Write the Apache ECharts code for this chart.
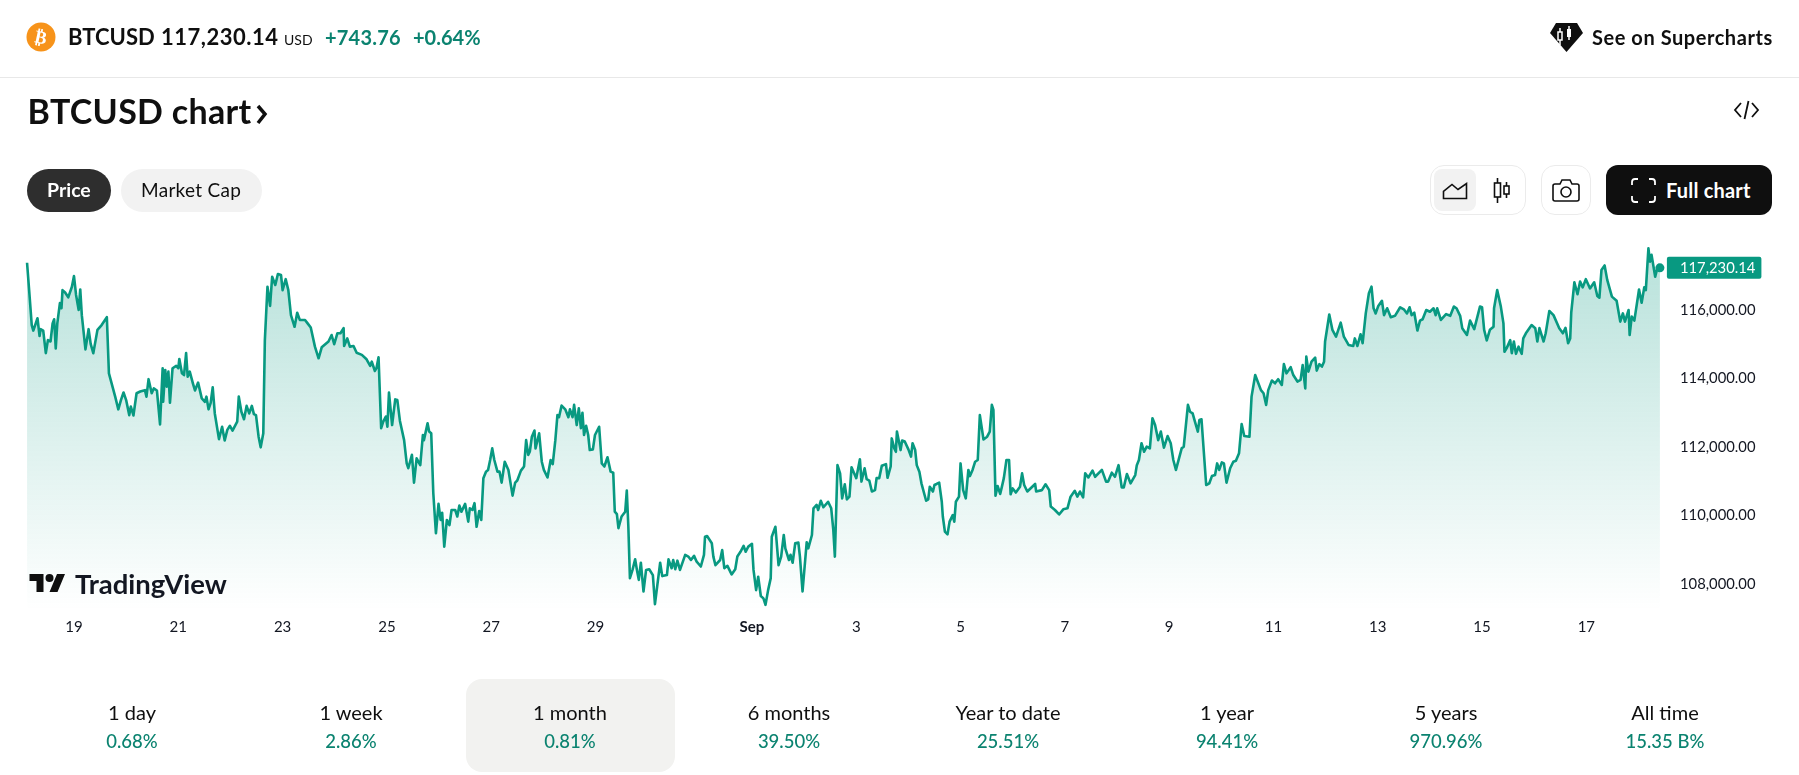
<!DOCTYPE html>
<html>
<head>
<meta charset="utf-8">
<title>BTCUSD chart</title>
<script src="https://cdn.jsdelivr.net/npm/echarts@6/dist/echarts.min.js"></script>
<style>
  html, body { margin: 0; background: #fff; }
  body { width: 1799px; height: 775px; overflow: hidden; position: relative; font-family: Lato, "Noto Sans", sans-serif; color: #0f0f0f; }
  #chart { position: absolute; left: 0; top: 0; width: 1799px; height: 775px; }
  .t { position: absolute; white-space: nowrap; line-height: 1; }
  .box { position: absolute; box-sizing: border-box; }
  .up { color: #0b8370; }
  svg { position: absolute; overflow: visible; }
  .stat { position: absolute; top: 680px; width: 219px; height: 93px; text-align: center; font-size: 20px; }
  .stat div { position: absolute; left: 0; width: 100%; line-height: 22px; }
</style>
</head>
<body>
<div id="chart"></div>

<!-- header row -->
<svg style="left:26px;top:22px" width="30" height="30" viewBox="0 0 30 30">
  <circle cx="15" cy="15" r="14.5" fill="#f7931a"/>
  <text x="15" y="21.500" text-anchor="middle" font-family="DejaVu Sans" font-weight="bold" font-size="18" fill="#fff" transform="rotate(12 15 15)">₿</text>
</svg>
<div class="t" style="left:68px;top:26px;font-size:22px;font-weight:700">BTCUSD</div>
<div class="t" style="left:161px;top:26px;font-size:22px;font-weight:700;letter-spacing:.5px">117,230.14</div>
<div class="t" style="left:284px;top:33px;font-size:14px">USD</div>
<div class="t up" style="left:325px;top:27px;font-size:20px;font-weight:700;letter-spacing:.2px">+743.76</div>
<div class="t up" style="left:413px;top:27px;font-size:20px;font-weight:700">+0.64%</div>
<svg style="left:1550px;top:23px" width="33" height="30" viewBox="0 0 33 30">
  <path d="M6 0H27L33 10 16.500 29 0 10Z" fill="#0f0f0f"/>
  <path d="M10 5V22M19 3V17" stroke="#fff" stroke-width="1.500"/>
  <rect x="8" y="9" width="4" height="8" fill="#0f0f0f" stroke="#fff" stroke-width="1.500"/>
  <rect x="17" y="6" width="4" height="8" fill="#fff"/>
</svg>
<div class="t" style="left:1592px;top:27px;font-size:20px;font-weight:700;letter-spacing:.55px">See on Supercharts</div>
<div class="box" style="left:0;top:77px;width:1799px;height:1px;background:#e8e8e8"></div>

<!-- title row -->
<div class="t" style="left:27.500px;top:94px;font-size:34px;font-weight:700;letter-spacing:.3px">BTCUSD chart</div>
<svg style="left:255px;top:102px" width="14" height="24" viewBox="0 0 14 24"><path d="M3 4L10 12 3 21" fill="none" stroke="#0f0f0f" stroke-width="3.500"/></svg>
<svg style="left:1734px;top:100px" width="25" height="20" viewBox="0 0 25 20"><path d="M7 3L1 10 7 17M18 3L24 10 18 17M14.500 1L10.500 19" fill="none" stroke="#0f0f0f" stroke-width="1.800"/></svg>

<!-- toggles -->
<div class="box" style="left:27px;top:169px;width:84px;height:43px;border-radius:22px;background:#2e2e2e"></div>
<div class="t" style="left:47px;top:180px;font-size:19.500px;font-weight:700;color:#fff">Price</div>
<div class="box" style="left:120.500px;top:169px;width:141.500px;height:43px;border-radius:22px;background:#f2f2f2"></div>
<div class="t" style="left:141px;top:180px;font-size:19px;letter-spacing:.3px">Market Cap</div>

<div class="box" style="left:1430px;top:165px;width:96px;height:50px;border:1px solid #ebebeb;border-radius:14px"></div>
<div class="box" style="left:1434px;top:169px;width:42px;height:42px;border-radius:8px;background:#f2f2f2"></div>
<svg style="left:1442px;top:181px" width="26" height="19" viewBox="0 0 26 19"><path d="M1.500 17.500H24.500V2.500L16 8.500 10 3.500 1.500 10.500Z" fill="none" stroke="#0f0f0f" stroke-width="1.600"/></svg>
<svg style="left:1493px;top:178px" width="18" height="25" viewBox="0 0 18 25"><path d="M4.500 0V25M13.500 4V20" stroke="#0f0f0f" stroke-width="1.600"/><rect x="1.500" y="5" width="6" height="14" fill="#fff" stroke="#0f0f0f" stroke-width="1.600"/><rect x="11" y="8" width="5" height="8" fill="#fff" stroke="#0f0f0f" stroke-width="1.600"/></svg>
<div class="box" style="left:1541px;top:165px;width:50px;height:50px;border:1px solid #ebebeb;border-radius:14px"></div>
<svg style="left:1552px;top:179px" width="28" height="23" viewBox="0 0 28 23"><path d="M3 5H8L10 1H18L20 5H25Q27 5 27 7V20Q27 22 25 22H3Q1 22 1 20V7Q1 5 3 5Z" fill="none" stroke="#0f0f0f" stroke-width="1.600"/><circle cx="14" cy="13" r="5" fill="none" stroke="#0f0f0f" stroke-width="1.600"/></svg>
<div class="box" style="left:1606px;top:165px;width:166px;height:50px;border-radius:12px;background:#0f0f0f"></div>
<svg style="left:1631px;top:178px" width="25" height="25" viewBox="0 0 25 25"><path d="M1 7V4Q1 1 4 1H7M18 1H21Q24 1 24 4V7M24 18V21Q24 24 21 24H18M7 24H4Q1 24 1 21V18" fill="none" stroke="#fff" stroke-width="1.800"/></svg>
<div class="t" style="left:1666px;top:180px;font-size:20px;font-weight:700;color:#fff;letter-spacing:.2px">Full chart</div>

<!-- watermark -->
<svg style="left:29px;top:571px" width="37" height="22" viewBox="0 0 36 22"><path d="M14 21H7V10H0V3h14v18zM28 21h-8l7.500-18h8L28 21z" fill="#0f0f0f"/><circle cx="20" cy="7" r="4" fill="#0f0f0f"/></svg>
<div class="t" style="left:75px;top:570px;font-size:27.500px;font-weight:700;color:#131722">TradingView</div>

<div class="box" style="left:466px;top:679px;width:209px;height:93px;border-radius:16px;background:#f2f2f0"></div>
<div id="stats"></div>

<script>
// price trace: [day, price], day counts from Aug 0 so Sep 1 is 32
const legAug18 = [[18.10,117380],[18.14,116580],[18.19,115560],[18.22,115400],[18.25,115420],[18.30,115760],[18.34,115240],[18.36,115440],[18.41,115400],[18.46,114740],[18.50,115120],[18.55,115080],[18.59,115610],[18.62,115730],[18.65,114880],[18.68,115610],[18.73,116200],[18.76,116050],[18.78,116580],[18.83,116510],[18.89,116370],[18.96,116680],[19.00,116990],[19.04,116440],[19.09,116000],[19.12,116600],[19.15,115850],[19.18,115800],[19.22,114850],[19.28,115440],[19.32,115010],[19.37,114740],[19.45,115420],[19.53,115560],[19.63,115790],[19.67,114150],[19.70,114100],[19.79,113470],[19.85,113100],[19.90,113370],[19.95,113590],[20.00,113370],[20.06,112930],[20.09,113180],[20.14,112920],[20.20,113570],[20.27,113620],[20.36,113660],[20.39,113470],[20.43,113980],[20.49,113570],[20.53,113710],[20.59,113650],[20.65,112660],[20.70,114300],[20.71,113320],[20.75,114250],[20.78,113760],[20.81,114200],[20.84,113290],[20.89,114300],[20.96,114370],[21.00,114300],[21.02,114570],[21.07,114150],[21.11,114100],[21.15,114740],[21.18,114050],[21.22,114200],[21.28,113860],[21.32,113650],[21.38,113880],[21.45,113420],[21.51,113320],[21.54,113470],[21.58,113100],[21.62,113280],[21.66,113740],[21.70,112980],[21.78,112230],[21.84,112590],[21.89,112190],[21.94,112500],[21.99,112620],[22.04,112480],[22.13,112740],[22.16,113470],[22.21,113030],[22.26,112810],[22.31,113200],[22.36,112980],[22.41,113200],[22.45,112960],[22.49,112930],[22.54,112300],[22.58,111990],[22.63,112400],[22.66,115120],[22.71,116680],[22.76,116120],[22.80,116970],[22.86,116730],[22.91,117050],[22.97,117020],[23.00,116580],[23.06,116900],[23.11,116580],[23.16,115850],[23.23,115510],[23.28,115920],[23.33,115710],[23.43,115710],[23.48,115610],[23.54,115490],[23.62,114930],[23.69,114590],[23.75,114910],[23.88,115080],[23.94,115270],[23.99,115000],[24.05,115320],[24.11,115320],[24.17,115470],[24.18,114950],[24.24,115170],[24.29,114930],[24.36,114950],[24.42,114750],[24.52,114690],[24.61,114560],[24.68,114370],[24.71,114490],[24.77,114220],[24.80,114300],[24.84,114620],[24.87,114660],[24.89,112550],[24.93,112740],[24.98,112890],[25.01,112590],[25.04,113590],[25.06,113570],[25.10,112640],[25.16,113390],[25.20,113370]];
const legAug25 = [[25.25,112760],[25.33,112200],[25.38,111520],[25.41,111380],[25.48,111770],[25.52,110960],[25.57,111670],[25.64,111470],[25.69,112350],[25.71,112200],[25.78,112690],[25.81,112450],[25.85,112400],[25.89,110650],[25.94,109480],[25.99,110340],[26.03,109870],[26.06,110080],[26.10,109090],[26.15,109870],[26.20,109720],[26.24,110160],[26.31,110160],[26.35,109970],[26.39,110290],[26.43,110110],[26.50,110340],[26.56,109820],[26.59,110210],[26.64,110160],[26.68,110360],[26.72,109670],[26.77,110130],[26.81,109870],[26.85,111090],[26.90,111280],[26.94,111330],[26.98,111620],[27.02,111960],[27.06,111620],[27.12,111280],[27.16,111280],[27.20,110960],[27.26,111570],[27.33,111330],[27.41,110580],[27.46,110960],[27.50,111020],[27.57,111310],[27.63,111430],[27.67,112200],[27.71,111770],[27.74,111860],[27.78,112300],[27.83,112480],[27.85,111960],[27.92,112400],[27.97,111570],[28.01,111330],[28.08,111110],[28.14,111620],[28.18,111500],[28.23,112200],[28.27,112930],[28.30,112870],[28.35,113210],[28.42,113100],[28.48,112870],[28.51,113100],[28.56,112870],[28.59,113230],[28.64,112640],[28.68,113130],[28.72,112550],[28.75,113000],[28.78,112350],[28.82,112620],[28.86,112350],[28.89,111910],[28.95,111930],[28.99,112350],[29.07,112590],[29.12,111520],[29.17,111430],[29.23,111700],[29.29,111280],[29.34,111250],[29.37,110110],[29.41,110040],[29.44,109630],[29.50,109970],[29.57,110110],[29.60,110730],[29.63,109670],[29.66,108170],[29.71,108410],[29.76,108720],[29.80,108360],[29.83,108120],[29.87,108620],[29.92,107780],[29.97,108410],[30.03,108430],[30.10,108260],[30.14,107410],[30.19,108020],[30.24,108620],[30.28,108230],[30.37,108260],[30.40,108720],[30.46,108460],[30.49,108700],[30.53,108430],[30.57,108680],[30.62,108410],[30.72,108850],[30.78,108800],[30.83,108700],[30.89,108820],[30.94,108650],[31.02,108510],[31.08,108850],[31.10,109380],[31.14,109400],[31.23,109190],[31.26,108800],[31.30,108550],[31.39,108700],[31.43,108990],[31.47,108460],[31.53,108530],[31.61,108280],[31.68,108430],[31.72,108800],[31.78,108940],[31.84,109110],[31.88,108940],[31.93,109090],[32.00,109170]];
const legSep1 = [[32.03,108410],[32.08,107820],[32.12,108210],[32.17,107650],[32.22,107580],[32.26,107390],[32.31,107820],[32.36,108170],[32.38,109380],[32.45,109670],[32.51,108550],[32.56,108800],[32.61,109430],[32.64,109040],[32.67,109090],[32.71,108700],[32.74,108850],[32.78,108620],[32.83,109190],[32.89,109210],[32.92,108800],[32.97,107780],[33.05,109220],[33.08,109040],[33.15,109430],[33.18,110210],[33.24,110310],[33.27,110160],[33.32,110430],[33.37,110240],[33.46,110400],[33.52,110210],[33.56,109580],[33.59,108800],[33.64,111470],[33.69,111230],[33.73,110500],[33.78,110910],[33.82,110470],[33.87,110550],[33.91,111410],[34.00,111090],[34.03,111130],[34.07,111640],[34.10,110990],[34.16,111380],[34.20,111060],[34.25,111020],[34.30,110700],[34.36,110740],[34.39,111090],[34.44,111090],[34.49,111450],[34.57,111500],[34.60,111100],[34.66,111430],[34.68,112250],[34.73,111960],[34.76,111860],[34.78,112450],[34.85,111910],[34.88,112190],[34.93,112160],[35.00,111930],[35.05,111720],[35.08,112110],[35.13,111910],[35.16,111470],[35.21,111280],[35.25,110940],[35.34,110430],[35.38,110470],[35.41,110840],[35.47,110700],[35.50,110890],[35.54,110920],[35.59,110960],[35.64,110400],[35.66,109970],[35.70,109530],[35.75,109450],[35.79,109820],[35.85,110010],[35.88,109820],[35.91,110400],[35.97,110550],[36.00,111520],[36.05,110740],[36.10,110500],[36.15,111330],[36.18,111150],[36.23,111330],[36.28,111570],[36.33,111620],[36.37,112930],[36.44,112220],[36.51,112300],[36.56,112450],[36.60,113230],[36.63,113080],[36.67,110580],[36.71,110860],[36.76,110630],[36.79,110820],[36.83,111090],[36.88,111620],[36.93,111620],[36.96,110620],[37.00,110790],[37.06,110670],[37.14,110840],[37.18,111230],[37.22,110890],[37.28,110700],[37.43,110920],[37.45,110700],[37.56,110740],[37.63,110910],[37.70,110740],[37.73,110260],[37.81,110160],[37.84,110210],[37.89,110030],[37.97,110180],[38.05,110210],[38.11,110550],[38.19,110720],[38.24,110550],[38.29,110700],[38.35,110530],[38.39,111230],[38.45,111110],[38.53,111310],[38.58,111130],[38.71,111330],[38.79,110990],[38.83,110990],[38.90,111250],[38.96,111130],[39.03,111470],[39.09,110820],[39.13,110820],[39.19,111210],[39.26,110940],[39.35,111180],[39.38,111470],[39.42,111620],[39.47,112110],[39.52,111860],[39.57,112010],[39.63,111960],[39.68,112840],[39.73,112640],[39.79,112200],[39.84,112450],[39.90,111980],[39.97,112320],[40.03,112110],[40.08,111620],[40.13,111330],[40.16,111310],[40.24,111960],[40.28,112010],[40.36,113230],[40.40,113030],[40.45,112980],[40.50,112710],[40.55,112450],[40.58,112790],[40.62,112810]];
const legSep9 = [[40.71,110890],[40.77,110940],[40.82,111150],[40.88,111180],[40.92,111520],[40.96,111330],[41.01,111550],[41.05,111520],[41.10,110960],[41.17,111380],[41.23,111570],[41.28,111600],[41.34,111820],[41.39,112670],[41.44,112320],[41.54,112300],[41.58,113470],[41.65,114100],[41.71,113860],[41.76,113660],[41.81,113570],[41.86,113230],[41.90,113660],[41.97,113940],[42.03,113860],[42.09,113980],[42.16,113810],[42.20,114420],[42.25,114150],[42.33,114330],[42.38,114100],[42.46,113910],[42.52,113960],[42.56,114390],[42.61,113710],[42.63,114640],[42.67,114200],[42.73,114490],[42.80,114610],[42.83,114230],[42.88,114420],[42.93,114350],[42.97,114490],[42.99,115080],[43.07,115870],[43.13,115420],[43.20,115220],[43.29,115630],[43.35,115220],[43.44,114980],[43.53,114950],[43.56,115170],[43.61,114950],[43.67,115290],[43.71,115030],[43.77,115900],[43.83,116490],[43.88,116680],[43.92,116050],[43.96,115900],[44.01,116120],[44.08,116270],[44.12,115850],[44.18,116050],[44.25,115790],[44.33,115830],[44.43,116080],[44.50,116020],[44.56,115900],[44.61,116080],[44.65,115850],[44.70,115920],[44.76,115400],[44.81,115690],[44.86,115730],[44.93,116000],[45.00,115950],[45.07,116050],[45.11,115850],[45.14,116050],[45.21,115710],[45.31,115880],[45.39,115830],[45.46,116100],[45.51,116050],[45.58,115830],[45.62,115470],[45.71,115270],[45.77,115690],[45.85,115440],[45.96,116100],[46.00,116080],[46.04,115420],[46.09,115110],[46.15,115420],[46.22,115510],[46.23,116050],[46.29,116580],[46.36,116100],[46.41,115610],[46.43,114780],[46.47,114880],[46.54,115120],[46.57,114740],[46.61,115080],[46.65,114720],[46.70,114930],[46.76,114720],[46.79,115170],[46.84,115320],[46.95,115560],[47.02,115470],[47.06,115080],[47.10,115470],[47.18,115080],[47.22,115320],[47.29,115970],[47.37,115850],[47.48,115470],[47.55,115320],[47.60,115480],[47.65,115030],[47.69,115170],[47.71,115920],[47.77,116810],[47.83,116460],[47.88,116830],[47.93,116660],[47.99,116900],[48.07,116630],[48.15,116810],[48.21,116410],[48.25,116360],[48.29,117170],[48.35,117300],[48.40,116880],[48.49,116390],[48.58,116270],[48.65,115660],[48.70,115900],[48.74,115660],[48.81,116000],[48.83,115270],[48.87,115810],[48.92,115690],[49.01,116600],[49.06,116210],[49.11,116660],[49.14,116580],[49.19,117800],[49.22,117410],[49.25,117610],[49.32,116970],[49.36,117220],[49.39,117310]];
const lastDay = 49.41;
const lastPrice = 117230.14;

const tickDays = [19, 21, 23, 25, 27, 29, 32, 34, 36, 38, 40, 42, 44, 46, 48];
const tickLabels = ['19', '21', '23', '25', '27', '29', 'Sep', '3', '5', '7', '9', '11', '13', '15', '17'];
const priceTicks = [108000, 110000, 112000, 114000, 116000];

const periodNames = ['1 day', '1 week', '1 month', '6 months', 'Year to date', '1 year', '5 years', 'All time'];
const periodChanges = ['0.68%', '2.86%', '0.81%', '39.50%', '25.51%', '94.41%', '970.96%', '15.35 B%'];

// bottom row of period stats
const statsEl = document.getElementById('stats');
periodNames.forEach((name, i) => {
  const el = document.createElement('div');
  el.className = 'stat';
  el.style.left = 22.5 + i * 219 + 'px';
  el.innerHTML = `<div style="top:21px">${name}</div><div class="up" style="top:50px;font-size:18.5px;font-weight:500">${periodChanges[i]}</div>`;
  statsEl.appendChild(el);
});

const fmtPrice = (v) => v.toLocaleString('en-US', { minimumFractionDigits: 2, maximumFractionDigits: 2 });
const green = '#089981';
const chartFont = 'Lato';

const chart = echarts.init(document.getElementById('chart'));
chart.setOption({
  animation: false,
  grid: { left: 27, right: 139, top: 240, bottom: 165 },
  xAxis: {
    type: 'value',
    min: 18.099,
    max: 49.412,
    splitLine: { show: false },
    axisLine: { show: false },
    axisTick: { show: false, customValues: tickDays },
    axisLabel: {
      customValues: tickDays,
      margin: 10,
      color: '#131722',
      fontFamily: chartFont,
      fontSize: 15,
      formatter: (v) => {
        const label = tickLabels[tickDays.indexOf(v)];
        return label === 'Sep' ? '{month|Sep}' : label;
      },
      rich: { month: { fontFamily: chartFont, fontSize: 15, fontWeight: 'bold', color: '#131722' } },
    },
  },
  yAxis: {
    type: 'value',
    position: 'right',
    min: 107240,
    max: 118044,
    splitLine: { show: false },
    axisLine: { show: false },
    axisTick: { show: false, customValues: priceTicks },
    axisLabel: {
      customValues: priceTicks,
      margin: 20,
      color: '#131722',
      fontFamily: chartFont,
      fontSize: 14.8,
      formatter: fmtPrice,
    },
  },
  series: [{
    type: 'line',
    silent: true,
    showSymbol: false,
    data: [...legAug18, ...legAug25, ...legSep1, ...legSep9, [lastDay, lastPrice]],
    lineStyle: { color: green, width: 2.6, join: 'round' },
    itemStyle: { color: green },
    areaStyle: {
      origin: 'start',
      opacity: 1,
      color: new echarts.graphic.LinearGradient(0, 0, 0, 1, [
        { offset: 0, color: 'rgba(8,153,129,0.29)' },
        { offset: 1, color: 'rgba(8,153,129,0)' },
      ]),
    },
    endLabel: {
      show: true,
      distance: 7,
      formatter: () => fmtPrice(lastPrice),
      color: '#fff',
      fontFamily: chartFont,
      fontSize: 14.8,
      backgroundColor: green,
      borderRadius: 2,
      padding: [4, 6, 3, 13],
    },
    markPoint: {
      symbol: 'circle',
      symbolSize: 9,
      silent: true,
      itemStyle: { color: green },
      label: { show: false },
      data: [{ coord: [lastDay, lastPrice] }],
    },
  }],
});
</script>
</body>
</html>
